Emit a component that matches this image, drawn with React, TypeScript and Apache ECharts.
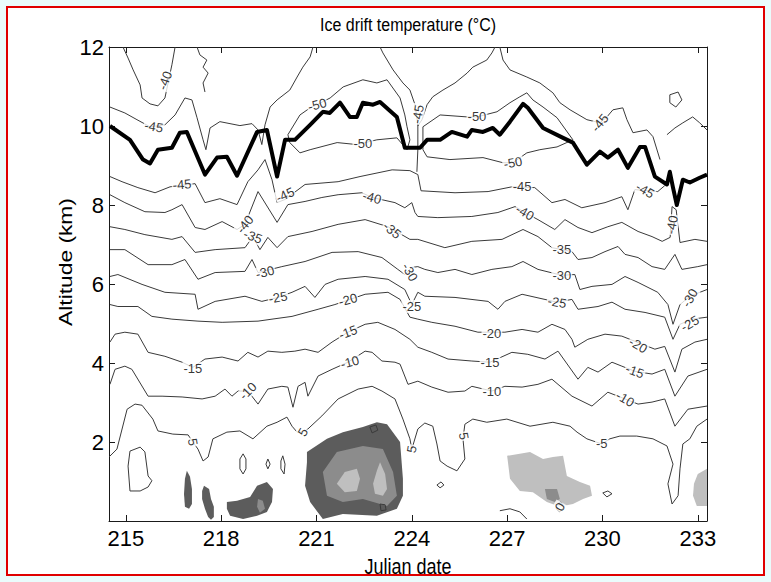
import React, { useEffect, useRef } from 'react';
import * as echarts from 'echarts';

const FONT = '"Liberation Sans", Arial, Helvetica, sans-serif';

const X_MIN = 214.47;
const X_MAX = 233.29;
const xTicks = [215, 218, 221, 224, 227, 230, 233];
const yTicks = [2, 4, 6, 8, 10, 12];

// thick tropopause line
const tropopause = [[214.5,10.0],[215.13,9.65],[215.54,9.15],[215.76,9.05],[216.01,9.4],[216.45,9.45],[216.7,9.83],[216.92,9.85],[217.49,8.77],[217.87,9.2],[218.18,9.22],[218.5,8.74],[219.13,9.85],[219.44,9.9],[219.76,8.72],[220.01,9.65],[220.32,9.65],[220.8,10.03],[221.2,10.36],[221.42,10.33],[221.74,10.59],[222.05,10.23],[222.27,10.23],[222.46,10.59],[222.78,10.54],[223.0,10.61],[223.53,10.23],[223.78,9.45],[224.26,9.45],[224.48,9.65],[224.89,9.65],[225.26,9.85],[225.74,9.73],[225.89,9.9],[226.24,9.85],[226.55,9.95],[226.77,9.78],[227.09,10.11],[227.5,10.56],[227.65,10.46],[228.13,9.95],[228.76,9.7],[229.07,9.58],[229.51,9.02],[229.92,9.35],[230.17,9.2],[230.49,9.4],[230.8,8.94],[231.18,9.47],[231.34,9.47],[231.65,8.72],[232.03,8.52],[232.12,8.84],[232.22,8.44],[232.34,8.0],[232.53,8.64],[232.75,8.57],[233.06,8.69],[233.29,8.77]];

// contour lines (°C)
const c45 = [[214.50,8.72],[214.88,8.59],[215.38,8.44],[215.92,8.31],[216.39,8.46],[217.18,8.54],[217.49,8.06],[217.96,8.16],[218.50,8.01],[218.84,8.59],[219.16,8.89],[219.38,9.15],[219.60,8.64],[219.76,8.06],[220.01,8.14],[220.64,8.52],[221.68,8.59],[222.37,8.72],[223.38,8.89],[223.94,8.87],[224.19,8.77],[224.29,8.36],[225.36,8.31],[226.40,8.34],[227.15,8.46],[227.87,8.44],[228.41,8.06],[228.82,8.14],[229.35,7.93],[230.08,8.06],[230.61,8.21],[230.80,7.88],[231.02,8.39],[231.74,8.34],[231.96,8.49]];
const c40 = [[214.50,8.26],[214.97,8.06],[215.60,7.83],[216.23,7.81],[216.45,7.88],[216.77,8.01],[217.18,7.43],[217.49,7.38],[218.03,7.58],[218.50,7.38],[218.75,7.51],[219.16,8.34],[219.76,7.56],[220.10,8.01],[220.64,8.09],[221.17,8.19],[221.68,8.26],[222.43,8.31],[222.75,8.19],[223.47,8.06],[223.78,7.93],[224.00,8.06],[224.10,7.81],[224.19,7.71],[224.82,7.68],[225.89,7.71],[226.71,7.81],[227.25,7.96],[227.56,7.81],[227.97,7.63],[228.50,7.38],[228.82,7.63],[229.23,7.43],[229.67,7.30],[230.17,7.45],[230.61,7.56],[231.12,7.33],[231.56,7.20],[231.88,7.08],[232.13,7.18],[232.19,7.96],[232.32,7.88],[232.44,7.05],[232.91,7.13],[233.29,7.08]];
const c35 = [[214.50,7.45],[214.97,7.38],[215.60,7.25],[216.45,7.13],[216.77,7.20],[217.18,6.80],[217.81,6.87],[218.75,6.92],[219.00,7.20],[219.22,6.87],[219.47,7.18],[219.76,6.92],[220.10,7.20],[220.86,7.33],[221.68,7.51],[222.53,7.63],[223.25,7.45],[223.94,7.13],[224.19,7.13],[225.04,6.92],[225.89,7.08],[226.84,7.13],[227.50,7.38],[227.97,7.20],[228.41,6.92],[229.04,6.82],[229.23,6.62],[229.67,6.67],[230.08,6.82],[230.49,6.95],[230.71,6.75],[231.12,6.67],[231.56,6.44],[231.96,6.37],[232.28,6.75],[232.50,6.37],[233.00,6.44],[233.29,6.49]];
const c30 = [[214.50,6.87],[214.97,6.87],[215.70,6.49],[216.45,6.49],[216.86,6.62],[217.27,6.12],[217.81,6.29],[218.75,6.32],[218.97,6.62],[219.16,6.29],[219.91,6.44],[220.64,6.57],[221.49,6.80],[222.31,6.82],[223.06,6.67],[223.56,6.37],[223.78,6.24],[224.00,6.42],[224.19,6.44],[224.41,6.37],[224.82,6.29],[225.36,6.37],[225.89,6.24],[226.52,6.37],[227.15,6.44],[227.50,6.57],[227.97,6.37],[228.72,6.22],[229.13,6.24],[229.29,5.86],[229.67,5.94],[230.30,5.99],[230.71,6.19],[231.12,6.04],[231.74,5.79],[232.06,5.48],[232.22,4.98],[232.44,5.48],[232.75,5.69],[233.29,5.86]];
const c25 = [[214.50,6.19],[214.75,6.24],[215.51,5.99],[216.23,5.79],[217.18,5.74],[217.27,5.36],[217.81,5.56],[218.75,5.69],[219.28,5.56],[219.79,5.66],[220.23,5.79],[220.64,5.94],[220.95,5.66],[221.27,5.99],[221.68,6.12],[222.53,6.19],[223.25,6.12],[223.78,5.86],[224.00,5.48],[224.19,5.79],[224.41,5.69],[225.36,5.66],[226.40,5.56],[226.71,5.36],[226.93,5.56],[227.47,5.74],[228.57,5.54],[229.04,5.61],[229.23,5.36],[229.86,5.43],[230.30,5.54],[230.71,5.36],[231.34,5.28],[231.96,5.16],[232.22,4.60],[232.44,4.98],[232.82,5.11],[233.29,5.16]];
const c20 = [[214.50,5.48],[214.75,5.43],[215.38,5.43],[215.82,5.18],[216.45,5.11],[217.27,5.06],[218.03,5.03],[219.16,5.06],[219.60,5.11],[220.23,5.18],[221.05,5.36],[221.58,5.48],[222.53,5.74],[223.25,5.79],[223.63,5.61],[223.94,5.16],[224.19,5.11],[224.63,5.03],[225.36,4.93],[226.08,4.78],[226.93,4.78],[227.47,4.85],[227.97,4.78],[228.41,4.98],[228.82,4.85],[229.04,4.60],[229.13,4.40],[229.54,4.60],[230.08,4.73],[230.61,4.68],[231.65,4.35],[231.96,4.42],[232.28,3.77],[232.50,4.35],[232.91,4.53],[233.29,4.60]];
const c15 = [[214.50,4.53],[214.66,4.73],[214.97,4.78],[215.38,4.73],[215.70,4.27],[216.23,4.17],[216.77,4.02],[217.11,3.89],[217.49,4.10],[218.03,4.15],[218.53,4.05],[218.84,4.27],[219.16,4.15],[219.47,4.30],[219.91,4.27],[220.32,4.30],[220.64,4.35],[221.05,4.27],[221.49,4.53],[221.99,4.78],[222.53,4.98],[222.93,5.03],[223.47,4.85],[223.94,4.60],[224.19,4.40],[224.63,4.27],[225.14,4.10],[225.89,4.05],[226.46,4.02],[227.15,4.27],[227.65,4.22],[228.19,4.10],[228.60,4.30],[229.23,3.59],[229.54,3.89],[229.86,3.77],[230.30,4.02],[230.61,3.92],[231.02,3.79],[231.56,3.72],[231.96,3.84],[232.28,3.16],[232.69,3.67],[233.29,3.84]];
const c10 = [[214.50,3.46],[214.66,3.84],[214.97,3.92],[215.19,3.84],[215.70,3.16],[216.14,3.16],[216.77,3.14],[217.40,3.09],[217.81,3.16],[218.12,3.34],[218.34,3.16],[218.53,3.29],[218.84,3.29],[219.16,2.96],[219.47,3.34],[219.91,3.41],[220.10,3.39],[220.26,2.88],[220.42,3.41],[220.64,3.51],[220.73,3.16],[221.05,3.67],[221.49,3.84],[221.99,4.02],[222.53,4.30],[222.75,4.27],[223.06,4.05],[223.47,4.02],[223.63,3.97],[223.88,3.46],[224.19,3.54],[224.63,3.39],[225.14,3.26],[225.67,3.29],[225.89,3.41],[226.52,3.29],[226.93,3.41],[227.47,3.39],[227.97,3.46],[228.41,3.59],[229.04,3.16],[229.67,2.91],[230.17,3.26],[230.71,3.09],[231.12,2.96],[231.56,3.01],[231.96,3.09],[232.28,2.40],[232.69,2.83],[233.29,2.91]];
const c5 = [[214.47,1.62],[214.72,1.82],[215.04,2.83],[215.29,2.96],[215.51,2.93],[215.85,2.58],[216.01,2.28],[216.48,2.20],[216.96,2.18],[217.11,2.00],[217.27,1.82],[217.43,1.52],[217.59,1.62],[217.74,2.08],[218.18,2.25],[218.59,2.28],[219.00,2.08],[219.44,2.40],[219.76,2.50],[220.07,2.63],[220.23,2.40],[220.39,2.25],[220.57,2.25],[220.73,2.33],[221.17,2.66],[221.68,3.09],[222.31,3.34],[222.75,3.41],[223.06,3.29],[223.47,3.09],[223.72,2.58],[223.94,2.08],[224.00,1.82],[224.19,2.33],[224.41,2.48],[224.66,2.40],[224.79,1.95],[224.89,1.52],[225.11,1.39],[225.42,1.27],[225.67,1.57],[225.61,2.08],[225.67,2.45],[225.92,2.58],[226.36,2.50],[226.99,2.58],[227.72,2.40],[228.44,2.50],[228.98,2.40],[229.20,2.25],[229.51,2.08],[229.98,1.95],[230.23,2.08],[230.55,2.15],[231.08,2.15],[231.59,2.08],[232.03,1.90],[232.22,1.44],[232.06,0.94],[232.19,0.43],[232.38,0.64],[232.44,1.32],[232.53,1.95],[232.75,2.08],[232.97,2.40],[233.29,2.58]];
const c5Loop = [[215.13,1.77],[215.45,1.87],[215.60,1.75],[215.70,1.14],[215.82,1.02],[215.70,0.86],[215.45,0.76],[215.13,0.76],[215.07,1.39],[215.13,1.77]];

// contours above the tropopause
const u40 = [[214.91,12.0],[215.07,11.72],[215.23,11.42],[215.45,11.04],[215.51,10.71],[215.76,10.56],[216.01,10.51],[216.23,10.71],[216.45,11.55],[216.55,12.0]];
const u45West = [[214.50,10.48],[214.97,10.33],[215.35,10.16],[215.76,9.98],[216.23,10.03],[216.55,10.28],[216.86,10.71],[217.08,10.66],[217.24,10.21],[217.43,9.65],[217.52,9.40],[217.65,9.95],[217.96,10.11],[218.59,10.01],[218.97,10.06],[219.16,9.90],[219.28,9.53],[219.38,10.03],[219.54,10.48],[219.76,10.66],[220.16,10.91],[220.39,11.24],[220.57,11.49],[220.80,11.75],[220.89,12.0]];
const u40Wiggle = [[217.24,12.0],[217.33,11.80],[217.55,11.67],[217.43,11.49],[217.59,11.34],[217.43,11.09],[217.49,10.86]];
const u50a = [[220.10,9.78],[220.48,10.28],[220.80,10.46],[221.02,10.54],[221.43,10.71],[221.84,10.99],[222.46,11.17],[222.90,11.09],[223.22,11.17],[223.63,10.71],[223.78,10.28],[223.85,9.98],[223.94,9.65],[223.85,9.40],[223.53,9.70],[222.90,9.65],[222.27,9.53],[221.65,9.58],[220.80,9.40],[220.48,9.32],[220.16,9.58],[220.10,9.78]];
const u45Mid = [[223.00,12.0],[223.09,11.85],[223.41,11.42],[223.72,11.09],[223.94,10.91],[224.10,10.54],[224.19,10.03],[224.19,9.40],[224.16,8.84]];
const u45East = [[224.19,10.0],[224.32,10.16],[224.48,10.54],[224.66,10.74],[224.98,10.91],[225.36,11.09],[225.74,11.34],[225.92,11.49],[226.36,11.67],[226.52,11.85],[226.62,12.0]];
const u50b = [[224.35,9.98],[224.89,10.28],[225.74,10.23],[226.05,10.23],[226.68,10.36],[227.09,10.59],[227.40,10.74],[227.62,10.84],[227.81,10.66],[228.13,10.48],[228.57,10.21],[229.07,9.65],[228.57,9.47],[228.03,9.40],[227.62,9.32],[227.18,9.07],[226.87,9.07],[226.24,9.20],[225.20,9.15],[224.48,9.22],[224.35,9.40],[224.35,9.98]];
const u45Far = [[226.77,12.0],[226.87,11.67],[227.09,11.42],[227.62,11.24],[228.03,11.09],[228.44,10.84],[228.66,10.59],[228.98,10.41],[229.51,10.16],[229.92,10.08],[230.14,10.23],[230.33,10.41],[230.64,10.46],[230.77,10.16],[230.96,9.83],[231.40,9.90],[231.59,9.73],[231.81,9.15]];
const u40East = [[232.03,9.78],[232.28,9.95],[232.53,10.08],[232.84,10.23],[233.06,10.08],[233.29,9.90]];
const u40EastLoop = [[232.12,10.79],[232.38,10.86],[232.50,10.66],[232.31,10.48],[232.12,10.59],[232.12,10.79]];

// 0 °C contours near the ground
const z1 = [[218.69,1.70],[218.78,1.57],[218.78,1.32],[218.69,1.19],[218.59,1.32],[218.59,1.57],[218.69,1.70]];
const z2 = [[219.47,1.57],[219.54,1.44],[219.47,1.32],[219.41,1.44],[219.47,1.57]];
const z3 = [[219.94,1.65],[220.01,1.44],[219.98,1.19],[219.88,1.32],[219.88,1.52],[219.94,1.65]];
const z4 = [[222.68,2.38],[222.87,2.43],[222.93,2.30],[222.75,2.23],[222.68,2.38]];
const z5 = [[223.0,0.43],[223.16,0.41],[223.19,0.28],[223.03,0.26],[223.0,0.43]];
const z6 = [[224.79,0.91],[224.92,0.99],[225.01,0.91],[224.89,0.84],[224.79,0.91]];
const z7 = [[226.77,0.26],[227.09,0.31],[227.40,0.23],[227.62,0.05]];
const z8 = [[228.57,0.43],[228.69,0.48],[228.79,0.36],[228.66,0.23],[228.54,0.31],[228.57,0.43]];
const z9 = [[230.01,0.71],[230.17,0.76],[230.30,0.69],[230.14,0.61],[230.01,0.71]];

const thinContours = [c45, c40, c35, c30, c25, c20, c15, c10, c5, c5Loop, u40, u45West, u40Wiggle, u50a, u45Mid, u45East, u50b, u45Far, u40East, u40EastLoop, z1, z2, z3, z4, z5, z6, z7, z8, z9];

// shaded (above-freezing) regions; level 2 = warmest
const shadeA = [[216.92,1.27],[217.02,1.12],[217.08,0.81],[217.08,0.43],[216.99,0.31],[216.86,0.36],[216.83,0.69],[216.86,1.07]];
const shadeB = [[217.46,0.89],[217.62,0.81],[217.68,0.56],[217.77,0.36],[217.77,0.10],[217.68,0.03],[217.59,0.10],[217.49,0.31],[217.40,0.56],[217.40,0.76]];
const shadeC = [[218.18,0.48],[218.50,0.51],[218.91,0.61],[219.13,0.89],[219.44,0.99],[219.63,0.81],[219.60,0.48],[219.44,0.23],[219.13,0.13],[218.69,0.05],[218.28,0.13],[218.18,0.31]];
const shadeCin = [[219.16,0.56],[219.31,0.51],[219.38,0.31],[219.22,0.21],[219.13,0.36]];
const shadeD = [[220.70,1.75],[221.33,2.08],[221.83,2.25],[222.46,2.38],[222.90,2.50],[223.22,2.45],[223.63,2.00],[223.72,1.07],[223.72,0.64],[223.53,0.31],[222.90,0.13],[221.83,0.18],[221.20,0.05],[220.80,0.48],[220.64,0.89],[220.70,1.49]];
const shadeDin = [[221.20,1.24],[221.64,1.75],[222.46,1.90],[223.09,1.82],[223.41,1.24],[223.53,0.64],[223.22,0.38],[222.46,0.56],[221.83,0.48],[221.33,0.64]];
const shadeDcore1 = [[221.89,1.24],[222.27,1.32],[222.37,1.07],[222.27,0.76],[221.89,0.73],[221.64,0.94]];
const shadeDcore2 = [[223.0,1.49],[223.16,1.19],[223.22,0.81],[223.09,0.64],[222.84,0.69],[222.78,0.94],[222.90,1.27]];
const shadeE = [[227.0,1.65],[227.72,1.75],[228.13,1.57],[228.44,1.62],[228.76,1.65],[228.88,1.14],[229.29,0.99],[229.61,0.89],[229.67,0.64],[229.39,0.56],[229.07,0.43],[228.76,0.38],[228.66,0.36],[228.25,0.48],[227.81,0.73],[227.40,0.76],[227.09,1.07]];
const shadeEin = [[228.19,0.81],[228.57,0.81],[228.66,0.56],[228.50,0.48],[228.25,0.56]];
const shadeF = [[233.29,1.32],[233.0,1.19],[232.88,0.94],[232.85,0.64],[232.97,0.38],[233.29,0.38]];
const shadePolys = [shadeA, shadeB, shadeC, shadeCin, shadeD, shadeDin, shadeDcore1, shadeDcore2, shadeE, shadeEin, shadeF];
const shadeLevels = [2, 2, 2, 1, 2, 1, 0, 0, 0, 1, 0];

// contour labels: x, y, text, angle
const contourLabels: [number, number, string, number][] = [
  [216.23,11.15,'-40',70],[215.88,9.98,'-45',-10],[216.77,8.52,'-45',5],[218.75,7.51,'-40',50],[219.0,7.2,'-35',-20],
  [220.01,8.26,'-45',25],[219.38,6.3,'-30',15],[219.79,5.66,'-25',10],[221.02,10.54,'-50',15],[222.46,9.55,'-50',0],
  [222.75,8.19,'-40',-15],[223.38,7.36,'-35',-40],[221.99,5.6,'-20',15],[217.11,3.87,'-15',0],[221.99,4.78,'-15',20],
  [218.84,3.29,'-10',45],[222.05,4.02,'-10',15],[217.11,2.0,'5',-80],[220.57,2.25,'5',60],[224.19,10.3,'-45',80],
  [223.94,6.3,'-30',-60],[224.0,5.43,'-25',0],[224.0,1.82,'5',80],[226.05,10.23,'-50',0],[227.47,8.47,'-45',0],
  [227.18,9.07,'-50',10],[227.56,7.81,'-40',-30],[228.72,6.87,'-35',0],[228.72,6.22,'-30',0],[228.57,5.54,'-25',-10],
  [226.52,4.74,'-20',0],[226.46,4.02,'-15',0],[226.52,3.29,'-10',0],[225.64,2.15,'5',-80],[229.92,10.08,'-45',50],
  [231.34,8.37,'-45',-30],[232.19,7.5,'-40',80],[232.75,5.65,'-30',60],[232.75,5.0,'-25',30],[231.12,4.45,'-20',-30],
  [231.02,3.79,'-15',-20],[230.71,3.09,'-10',-30],[229.98,1.95,'-5',0],[228.66,0.36,'0',60]
];

const SHADE_COLORS = ['#bfbfbf', '#8c8c8c', '#5c5c5c'];

export default function App() {
  const ref = useRef<HTMLDivElement>(null);
  useEffect(() => {
    document.body.style.margin = '0';
    if (!ref.current) return;
    const chart = echarts.init(ref.current, undefined, { renderer: 'svg' });
    const axisColor = '#1a1a1a';
    const series: any[] = [];
    series.push({
      type: 'custom',
      coordinateSystem: 'cartesian2d',
      silent: true,
      z: 1,
      clip: true,
      data: shadePolys.map((p, i) => [p[0][0], p[0][1], i]),
      renderItem: (params: any, api: any) => {
        const poly = shadePolys[params.dataIndex];
        return {
          type: 'polygon',
          shape: { points: poly.map((pt) => api.coord(pt)) },
          style: { fill: SHADE_COLORS[shadeLevels[params.dataIndex]], stroke: 'none' },
        };
      },
    });
    thinContours.forEach((pts) => {
      series.push({
        type: 'line', data: pts, showSymbol: false, symbol: 'none', silent: true, z: 3,
        lineStyle: { color: '#3a3a3a', width: 1 },
      });
    });
    series.push({
      type: 'line', data: tropopause, showSymbol: false, symbol: 'none', silent: true, z: 4,
      lineStyle: { color: '#000', width: 4, join: 'round' },
    });
    series.push({
      type: 'scatter', silent: true, z: 5, symbolSize: 0,
      data: contourLabels.map(([x, y, t, r]) => ({ value: [x, y], name: t, label: { rotate: r } })),
      label: {
        show: true, position: 'inside', formatter: '{b}', fontSize: 13, color: '#000',
        fontFamily: FONT, backgroundColor: '#ffffff', padding: [0, 1],
      },
    });

    const option: any = {
      animation: false,
      backgroundColor: '#ffffff',
      grid: { left: 109, top: 47, width: 598, height: 474, containLabel: false },
      xAxis: [
        {
          type: 'value', min: X_MIN, max: X_MAX, position: 'bottom',
          axisLine: { onZero: false, lineStyle: { color: axisColor, width: 1 } },
          axisTick: { inside: true, length: 6, customValues: xTicks, lineStyle: { color: axisColor } },
          axisLabel: { customValues: xTicks, fontSize: 22, color: '#000', fontFamily: FONT, margin: 6 },
          splitLine: { show: false },
        },
        {
          type: 'value', min: X_MIN, max: X_MAX, position: 'top',
          axisLine: { onZero: false, lineStyle: { color: axisColor, width: 1 } },
          axisTick: { inside: true, length: 6, customValues: xTicks, lineStyle: { color: axisColor } },
          axisLabel: { show: false },
          splitLine: { show: false },
        },
      ],
      yAxis: [
        {
          type: 'value', min: 0, max: 12, interval: 2, position: 'left',
          axisLine: { onZero: false, lineStyle: { color: axisColor, width: 1 } },
          axisTick: { inside: true, length: 6, customValues: yTicks, lineStyle: { color: axisColor } },
          axisLabel: { customValues: yTicks, fontSize: 22, color: '#000', fontFamily: FONT, margin: 5 },
          splitLine: { show: false },
        },
        {
          type: 'value', min: 0, max: 12, interval: 2, position: 'right',
          axisLine: { onZero: false, lineStyle: { color: axisColor, width: 1 } },
          axisTick: { inside: true, length: 6, customValues: yTicks, lineStyle: { color: axisColor } },
          axisLabel: { show: false },
          splitLine: { show: false },
        },
      ],
      graphic: [
        { type: 'rect', z: -10, silent: true, shape: { x: 0, y: 0, width: 771, height: 582 }, style: { fill: '#eafcfc' } },
        { type: 'rect', z: -9, silent: true, shape: { x: 7, y: 7, width: 757, height: 568 }, style: { fill: '#ffffff', stroke: '#e00000', lineWidth: 2 } },
        { type: 'text', x: 408, y: 25, scaleY: 1.18, silent: true, style: { text: 'Ice drift temperature (°C)', fontSize: 16, fontFamily: FONT, fill: '#000', align: 'center', verticalAlign: 'middle' } },
        { type: 'text', x: 408, y: 566, scaleY: 1.2, silent: true, style: { text: 'Julian date', fontSize: 18, fontFamily: FONT, fill: '#000', align: 'center', verticalAlign: 'middle' } },
        { type: 'text', x: 65, y: 262, rotation: Math.PI / 2, scaleX: 1.2, silent: true, style: { text: 'Altitude (km)', fontSize: 19, fontFamily: FONT, fill: '#000', align: 'center', verticalAlign: 'middle' } },
      ],
      series,
    };
    chart.setOption(option);
    return () => chart.dispose();
  }, []);
  return <div ref={ref} style={{ width: 771, height: 582 }} />;
}
